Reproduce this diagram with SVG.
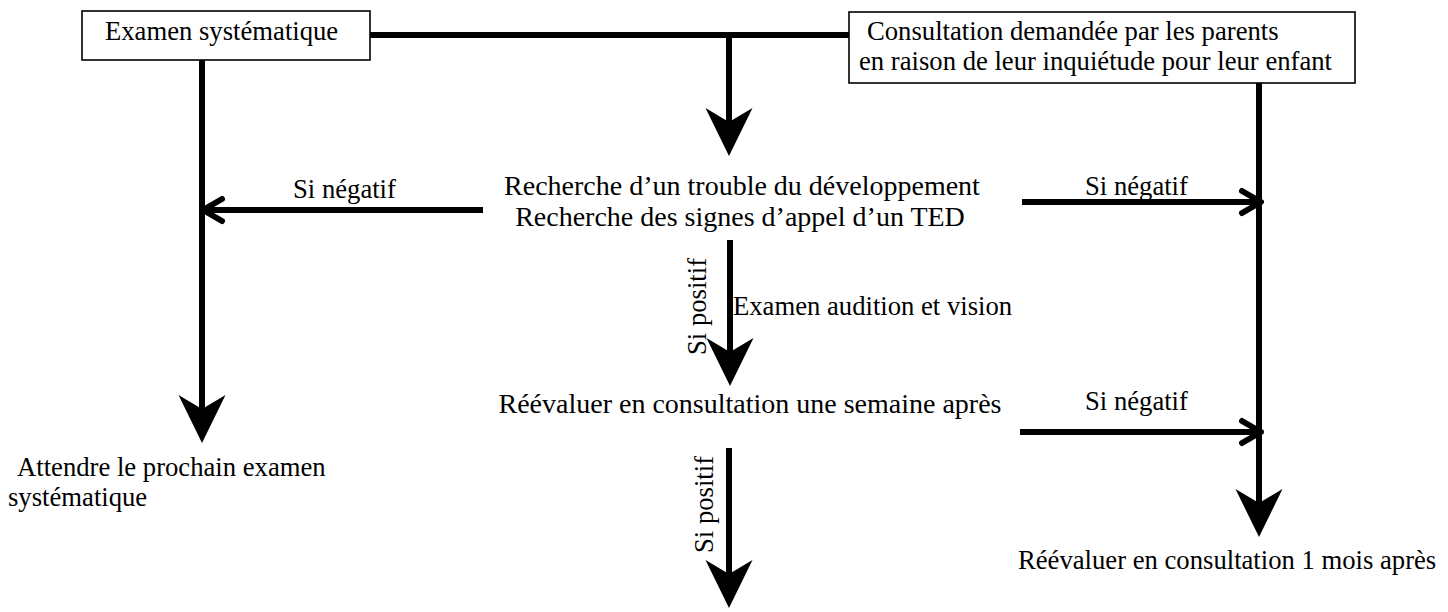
<svg xmlns="http://www.w3.org/2000/svg" xmlns:xlink="http://www.w3.org/1999/xlink" width="1448" height="612" viewBox="0 0 1448 612">
<style>
text{font-family:"Liberation Serif","Times New Roman",serif;font-size:26.67px;fill:#000}
.big{font-size:28px}
.box{fill:#fff;stroke:#000;stroke-width:1.6}
.ln{stroke:#000;stroke-width:6;fill:none}
.chev{stroke:#000;stroke-width:6;fill:none;stroke-linecap:round;stroke-linejoin:round}
.mid{text-anchor:middle}
</style>
<defs>
<path id="stealth" d="M0,0 L-23.5,-48 L0,-34 L23.5,-48 Z" fill="#000"/>
</defs>
<rect width="1448" height="612" fill="#fff"/>
<g id="connectors">
<line class="ln" x1="370" y1="35" x2="849" y2="35"/>
<line class="ln" x1="729" y1="35" x2="729" y2="124"/>
<use xlink:href="#stealth" transform="translate(729,156)"/>
<line class="ln" x1="202" y1="60" x2="202" y2="411"/>
<use xlink:href="#stealth" transform="translate(202,443)"/>
<line class="ln" x1="1259" y1="83" x2="1259" y2="505"/>
<use xlink:href="#stealth" transform="translate(1259,537)"/>
<line class="ln" x1="483" y1="210" x2="204" y2="210"/>
<polyline class="chev" points="222,199 203,210 222,221"/>
<line class="ln" x1="1022" y1="202" x2="1259" y2="202"/>
<polyline class="chev" points="1242,191 1261,202 1242,213"/>
<line class="ln" x1="730" y1="240" x2="730" y2="354"/>
<use xlink:href="#stealth" transform="translate(730,386)"/>
<line class="ln" x1="1020" y1="432" x2="1259" y2="432"/>
<polyline class="chev" points="1242,421 1261,432 1242,443"/>
<line class="ln" x1="729" y1="448" x2="729" y2="576"/>
<use xlink:href="#stealth" transform="translate(729,608)"/>
</g>
<g id="examen-systematique">
<rect class="box" x="82" y="11" width="288" height="49"/>
<text x="105" y="40">Examen systématique</text>
</g>
<g id="consultation-parents">
<rect class="box" x="849" y="12" width="506" height="71"/>
<text x="867" y="40">Consultation demandée par les parents</text>
<text x="859" y="70">en raison de leur inquiétude pour leur enfant</text>
</g>
<g id="recherche">
<text class="mid big" x="742" y="195">Recherche d’un trouble du développement</text>
<text class="mid big" x="740" y="226">Recherche des signes d’appel d’un TED</text>
</g>
<g id="labels">
<text x="293" y="198">Si négatif</text>
<text x="1085" y="195">Si négatif</text>
<text transform="translate(706,355) rotate(-90)">Si positif</text>
<text x="733" y="315">Examen audition et vision</text>
<text x="1085" y="410">Si négatif</text>
<text transform="translate(713,553) rotate(-90)">Si positif</text>
</g>
<g id="reevaluer-semaine">
<text class="mid big" x="750" y="413">Réévaluer en consultation une semaine après</text>
</g>
<g id="attendre">
<text x="17" y="476">Attendre le prochain examen</text>
<text x="8" y="506">systématique</text>
</g>
<g id="reevaluer-mois">
<text x="1018" y="569">Réévaluer en consultation 1 mois après</text>
</g>
</svg>
